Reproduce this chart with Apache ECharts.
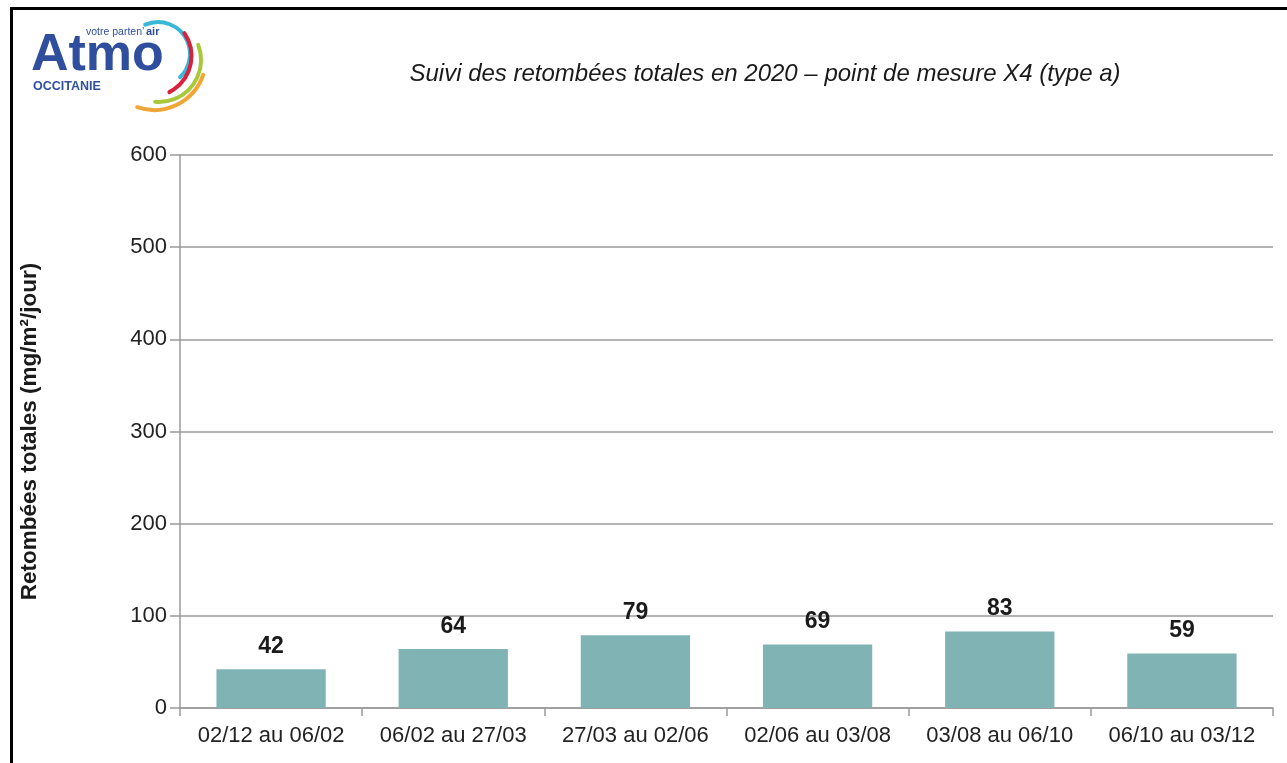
<!DOCTYPE html>
<html>
<head>
<meta charset="utf-8">
<script src="https://cdn.jsdelivr.net/npm/echarts@6/dist/echarts.min.js"></script>
<style>
  html, body { margin: 0; padding: 0; background: #fff; }
  #chart { width: 1287px; height: 763px; }
</style>
</head>
<body>
<div id="chart"></div>
<script>
// Sampling periods (2020) and total deposition at point X4
const periods = ['02/12 au 06/02', '06/02 au 27/03', '27/03 au 02/06', '02/06 au 03/08', '03/08 au 06/10', '06/10 au 03/12'];
const retombees = [42, 64, 79, 69, 83, 59];
const yTicks = [0, 100, 200, 300, 400, 500, 600];

const titleText = 'Suivi des retombées totales en 2020 – point de mesure X4 (type a)';
const yAxisName = 'Retombées totales (mg/m²/jour)';

const FONT = "'Liberation Sans', Arial, sans-serif";

const chart = echarts.init(document.getElementById('chart'), null, { renderer: 'canvas' });

chart.setOption({
  backgroundColor: '#ffffff',
  animation: false,
  title: {
    text: titleText,
    left: 760,
    top: 57,
    textAlign: 'center',
    textStyle: { fontFamily: FONT, fontSize: 24, fontStyle: 'italic', fontWeight: 'normal', color: '#1a1a1a' }
  },
  grid: { left: 180, right: 14, top: 155, bottom: 55, containLabel: false },
  xAxis: {
    type: 'category',
    data: periods,
    boundaryGap: true,
    axisLine: { show: true, lineStyle: { color: '#9a9a9a', width: 1.5 } },
    axisTick: { show: true, length: 8, lineStyle: { color: '#9a9a9a', width: 1.5 } },
    axisLabel: { interval: 0, fontFamily: FONT, fontSize: 22, color: '#222', margin: 17 }
  },
  yAxis: {
    type: 'value',
    min: yTicks[0],
    max: yTicks[yTicks.length - 1],
    interval: 100,
    name: yAxisName,
    nameLocation: 'middle',
    nameRotate: 90,
    nameGap: 139,
    nameTextStyle: { fontFamily: FONT, fontSize: 22.5, fontWeight: 'bold', color: '#1a1a1a' },
    axisLine: { show: true, lineStyle: { color: '#9a9a9a', width: 1.5 } },
    axisTick: { show: true, length: 10, lineStyle: { color: '#9a9a9a', width: 1.5 } },
    splitLine: { show: true, lineStyle: { color: '#9a9a9a', width: 1.5 } },
    axisLabel: { fontFamily: FONT, fontSize: 22, color: '#222', margin: 13 }
  },
  series: [{
    type: 'bar',
    data: retombees,
    barCategoryGap: '40%',
    itemStyle: { color: '#80b4b4' },
    label: {
      show: true,
      position: 'top',
      distance: 11,
      fontFamily: FONT,
      fontSize: 23,
      fontWeight: 'bold',
      color: '#1a1a1a'
    }
  }],
  graphic: [
    // frame lines
    { type: 'rect', shape: { x: 10, y: 7, width: 1277, height: 3 }, style: { fill: '#000' }, silent: true },
    { type: 'rect', shape: { x: 10, y: 7, width: 3, height: 756 }, style: { fill: '#000' }, silent: true },
    // logo
    { type: 'text', left: 31, top: 30, style: { text: 'Atmo', fontFamily: FONT, fontSize: 52, fontWeight: 'bold', fill: '#2f4f9e' }, silent: true },
    { type: 'text', left: 86, top: 27, style: { text: "votre parten’", fontFamily: FONT, fontSize: 10.5, fill: '#2f4f9e' }, silent: true },
    { type: 'text', left: 146, top: 26, style: { text: 'air', fontFamily: FONT, fontSize: 11, fontWeight: 'bold', fill: '#2f4f9e' }, silent: true },
    { type: 'text', left: 33, top: 80, style: { text: 'OCCITANIE', fontFamily: FONT, fontSize: 12.5, fontWeight: 'bold', fill: '#2f4f9e' }, silent: true },
    { type: 'arc', shape: { cx: 158, cy: 54, r: 32, startAngle: -1.98, endAngle: 0.81 }, style: { stroke: '#3bb6d8', lineWidth: 4, fill: null, lineCap: 'round' }, silent: true },
    { type: 'arc', shape: { cx: 151, cy: 56, r: 40.5, startAngle: -0.6, endAngle: 1.1 }, style: { stroke: '#d8213b', lineWidth: 4, fill: null, lineCap: 'round' }, silent: true },
    { type: 'arc', shape: { cx: 159, cy: 60, r: 42, startAngle: -0.37, endAngle: 1.66 }, style: { stroke: '#a9c83c', lineWidth: 4, fill: null, lineCap: 'round' }, silent: true },
    { type: 'arc', shape: { cx: 154, cy: 58, r: 52, startAngle: 0.33, endAngle: 1.9 }, style: { stroke: '#f0a535', lineWidth: 4, fill: null, lineCap: 'round' }, silent: true }
  ]
});
</script>
</body>
</html>
